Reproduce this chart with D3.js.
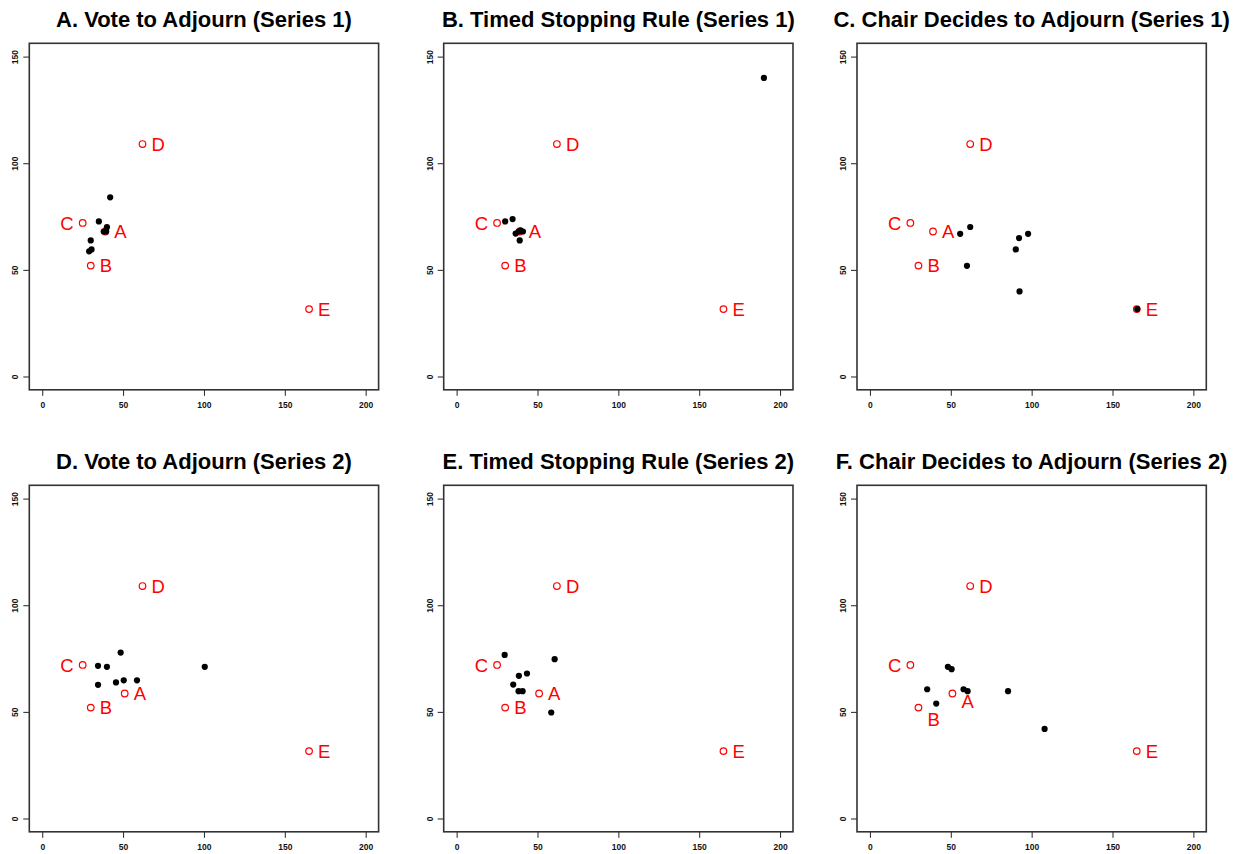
<!DOCTYPE html>
<html>
<head>
<meta charset="utf-8">
<script src="https://cdn.jsdelivr.net/npm/d3@7"></script>
<style>
  html, body { margin: 0; padding: 0; background: #fff; }
  svg { display: block; }
</style>
</head>
<body>
<svg id="chart" width="1241" height="854"></svg>
<script>
// ---------- data ----------
const panelTitles = [
  "A. Vote to Adjourn (Series 1)",
  "B. Timed Stopping Rule (Series 1)",
  "C. Chair Decides to Adjourn (Series 1)",
  "D. Vote to Adjourn (Series 2)",
  "E. Timed Stopping Rule (Series 2)",
  "F. Chair Decides to Adjourn (Series 2)"
];
const xTicks = [0, 50, 100, 150, 200];
const yTicks = [0, 50, 100, 150];

// ideal points (red open circles)
const idealNames = ["A", "B", "C", "D", "E"];
const idealX1 = [39, 30, 25, 62, 165];
const idealY1 = [68, 52, 72, 109, 31.6];
const idealX2 = [51, 30, 25, 62, 165];
const idealY2 = [58.6, 52, 72, 109, 31.6];
const labelSide = ["right", "right", "left", "right", "right"];

// outcomes (black dots), one pair of arrays per panel
const ptsAx = [42, 35, 40, 38, 39.5, 30, 30.5, 29];
const ptsAy = [84, 72.7, 70, 68, 68, 63.8, 59.6, 58.7];
const ptsBx = [190, 30, 34.6, 36.5, 38.3, 41, 39, 39.5];
const ptsBy = [140, 72.7, 73.8, 67, 68, 68, 63.8, 68.5];
const ptsCx = [55.8, 62, 60, 90.2, 92.2, 97.8, 92.5, 165.3];
const ptsCy = [66.9, 70.1, 51.9, 59.6, 64.9, 66.9, 39.9, 31.6];
const ptsDx = [48.5, 34.5, 40, 100.5, 34.5, 45.6, 50.4, 58.6];
const ptsDy = [77.8, 71.6, 71.1, 71.1, 62.7, 63.8, 64.8, 64.8];
const ptsEx = [29.7, 60.6, 38.5, 43.5, 35, 38.3, 40.8, 58.5];
const ptsEy = [76.7, 74.7, 66.9, 68, 62.8, 59.7, 59.7, 49.7];
const ptsFx = [48.2, 50.5, 35.4, 41, 57.9, 60.4, 85.4, 108];
const ptsFy = [71.1, 70, 60.6, 53.9, 60.6, 59.7, 59.7, 42];

const panelPtsX = [ptsAx, ptsBx, ptsCx, ptsDx, ptsEx, ptsFx];
const panelPtsY = [ptsAy, ptsBy, ptsCy, ptsDy, ptsEy, ptsFy];
const panelSeries = [1, 1, 1, 2, 2, 2];

// ---------- layout ----------
const svg = d3.select("#chart");
const colLeft = [29.3, 443.7, 857];
const rowTop = [43.3, 485.3];
const plotW = 349.3, plotH = 346.5;
const FONT = "Liberation Sans, Arial, sans-serif";
// label vertical shifts (px); in panel F the A and B labels sit lower
const labelDy = [
  [0, 0, 0, 0, 0], [0, 0, 0, 0, 0], [0, 0, 0, 0, 0],
  [0, 0, 0, 0, 0], [0, 0, 0, 0, 0], [8, 12, 0, 0, 0]
];

panelTitles.forEach((title, i) => {
  const left = colLeft[i % 3], top = rowTop[Math.floor(i / 3)];
  const x = d3.scaleLinear().domain([-8, 208]).range([left, left + plotW]);
  const y = d3.scaleLinear().domain([-6.24, 156.24]).range([top + plotH, top]);
  const g = svg.append("g");

  // title
  g.append("text")
    .attr("x", left + plotW / 2)
    .attr("y", top - 16.5)
    .attr("text-anchor", "middle")
    .attr("font-family", FONT)
    .attr("font-weight", "bold")
    .attr("font-size", 22)
    .attr("fill", "#000")
    .text(title);

  // x axis
  const gx = g.append("g")
    .attr("transform", `translate(0,${top + plotH})`)
    .call(d3.axisBottom(x).tickValues(xTicks).tickSize(6).tickPadding(6));
  gx.select(".domain").remove();
  gx.selectAll("line").attr("stroke", "#222").attr("stroke-width", 1);
  gx.selectAll("text")
    .attr("font-family", FONT)
    .attr("font-weight", "bold")
    .attr("font-size", 8.5)
    .attr("fill", "#111");

  // y axis (labels rotated, like R's default)
  const gy = g.append("g")
    .attr("transform", `translate(${left},0)`)
    .call(d3.axisLeft(y).tickValues(yTicks).tickSize(6));
  gy.select(".domain").remove();
  gy.selectAll("line").attr("stroke", "#222").attr("stroke-width", 1);
  gy.selectAll("text")
    .attr("font-family", FONT)
    .attr("font-weight", "bold")
    .attr("font-size", 8.5)
    .attr("fill", "#111")
    .attr("text-anchor", "middle")
    .attr("x", 0).attr("y", 0).attr("dy", "0.35em")
    .attr("transform", "translate(-14,0) rotate(-90)");

  // box
  g.append("rect")
    .attr("x", left).attr("y", top)
    .attr("width", plotW).attr("height", plotH)
    .attr("fill", "none")
    .attr("stroke", "#333")
    .attr("stroke-width", 1.6);

  // ideal points
  const ix = panelSeries[i] === 1 ? idealX1 : idealX2;
  const iy = panelSeries[i] === 1 ? idealY1 : idealY2;
  idealNames.forEach((name, k) => {
    g.append("circle")
      .attr("cx", x(ix[k])).attr("cy", y(iy[k]))
      .attr("r", 3.3)
      .attr("fill", "none")
      .attr("stroke", "#ff0000")
      .attr("stroke-width", 1.2);
    const side = labelSide[k];
    g.append("text")
      .attr("x", x(ix[k]) + (side === "left" ? -9 : 9))
      .attr("y", y(iy[k]) + labelDy[i][k])
      .attr("dy", "0.36em")
      .attr("text-anchor", side === "left" ? "end" : "start")
      .attr("font-family", FONT)
      .attr("font-size", 18.5)
      .attr("fill", "#ff0000")
      .text(name);
  });

  // outcomes
  const px = panelPtsX[i], py = panelPtsY[i];
  g.selectAll("circle.pt")
    .data(px.map((v, k) => [v, py[k]]))
    .enter().append("circle")
    .attr("class", "pt")
    .attr("cx", d => x(d[0])).attr("cy", d => y(d[1]))
    .attr("r", 3.1)
    .attr("fill", "#000");
});
</script>
</body>
</html>
